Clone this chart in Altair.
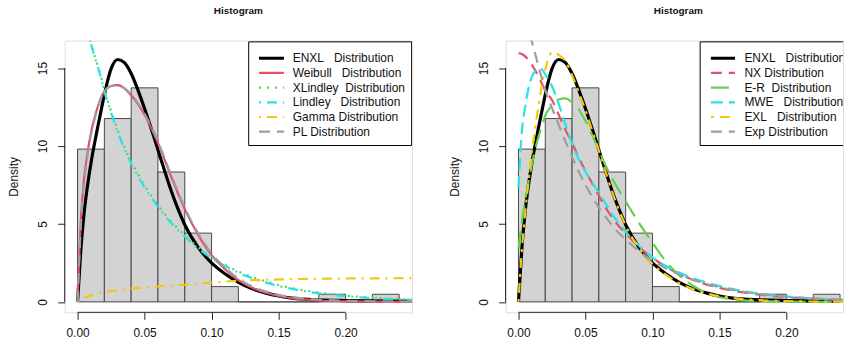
import altair as alt
import pandas as pd

FONT = "Liberation Sans"

# ---------------- data ----------------
BREAKS = [0.00, 0.02, 0.04, 0.06, 0.08, 0.10, 0.12, 0.14, 0.16, 0.18, 0.20, 0.22, 0.24]
DENSITY = [9.80, 11.76, 13.73, 8.33, 4.41, 0.98, 0.0, 0.0, 0.0, 0.49, 0.0, 0.49]

X_GRID = [0, 0.0025, 0.005, 0.0075, 0.01, 0.0125, 0.015, 0.0175, 0.02, 0.025, 0.03,
          0.035, 0.04, 0.045, 0.05, 0.055, 0.06, 0.065, 0.07, 0.075, 0.08, 0.09,
          0.10, 0.11, 0.12, 0.13, 0.14, 0.15, 0.16, 0.18, 0.20, 0.22, 0.25]

ENXL = [0, 3.4, 5.8, 7.5, 8.9, 10.1, 11.2, 12.25, 13.3, 14.95, 15.55, 15.35, 14.65, 13.6, 12.4,
        11.1, 9.75, 8.4, 7.1, 5.95, 4.95, 3.5, 2.5, 1.8, 1.25, 0.85, 0.58, 0.38, 0.24, 0.13,
        0.09, 0.07, 0.05]
WEIBULL = [0, 5.3, 8.0, 9.6, 10.85, 11.75, 12.5, 13.1, 13.5, 13.85, 13.9, 13.7, 13.25, 12.7,
           12.0, 11.15, 10.2, 9.1, 8.0, 6.95, 5.95, 4.3, 3.0, 2.1, 1.4, 0.92, 0.6, 0.38, 0.24,
           0.09, 0.035, 0.012, 0.003]
XLINDLEY = [20.3, 19.3, 18.35, 17.45, 16.6, 15.85, 15.15, 14.45, 13.6, 12.25, 11.0, 9.9, 9.0,
            8.2, 7.45, 6.8, 6.2, 5.65, 5.15, 4.7, 4.28, 3.5, 2.87, 2.37, 1.95, 1.6, 1.32, 1.08,
            0.88, 0.6, 0.4, 0.27, 0.15]
LINDLEY = [20.0, 19.1, 18.2, 17.35, 16.55, 15.8, 15.1, 14.35, 13.5, 12.15, 10.9, 9.8, 8.9, 8.1,
           7.35, 6.7, 6.1, 5.55, 5.05, 4.6, 4.2, 3.42, 2.8, 2.3, 1.88, 1.53, 1.25, 1.02, 0.83,
           0.55, 0.37, 0.24, 0.13]
GAMMA = [0, 0.15, 0.26, 0.35, 0.42, 0.48, 0.53, 0.58, 0.62, 0.69, 0.75, 0.8, 0.85, 0.89, 0.93,
         0.96, 0.99, 1.02, 1.05, 1.08, 1.1, 1.17, 1.24, 1.3, 1.35, 1.39, 1.42, 1.44, 1.46, 1.48,
         1.5, 1.51, 1.52]
PL = [0, 4.9, 7.7, 9.4, 10.7, 11.65, 12.45, 13.05, 13.5, 13.85, 13.9, 13.7, 13.3, 12.75, 12.05,
      11.25, 10.3, 9.2, 8.1, 7.05, 6.05, 4.4, 3.1, 2.2, 1.5, 1.0, 0.68, 0.45, 0.31, 0.15, 0.07,
      0.035, 0.015]

NX = [15.95, 15.9, 15.75, 15.5, 15.2, 14.85, 14.45, 14.0, 13.55, 12.95, 12.0, 11.05, 10.2, 9.25,
      8.4, 7.6, 6.8, 6.05, 5.4, 4.85, 4.4, 3.5, 2.83, 2.25, 1.8, 1.42, 1.12, 0.9, 0.72, 0.46,
      0.3, 0.19, 0.1]
ER = [3.4, 5.1, 6.5, 7.7, 8.8, 9.8, 10.6, 11.3, 11.95, 12.6, 12.98, 13.05, 12.8, 12.35, 11.6,
      10.7, 9.75, 8.75, 7.9, 7.15, 6.45, 5.05, 3.8, 2.6, 1.7, 1.05, 0.58, 0.3, 0.16, 0.05,
      0.015, 0.004, 0.0]
MWE = [7.3, 10.9, 12.5, 13.7, 14.45, 14.8, 14.95, 14.9, 14.6, 13.85, 12.7, 11.4, 10.15, 9.15,
       8.35, 7.65, 7.0, 6.3, 5.6, 5.05, 4.5, 3.6, 2.85, 2.3, 1.88, 1.53, 1.25, 1.02, 0.82, 0.53,
       0.34, 0.22, 0.11]
EXL = [0, 3.3, 5.7, 7.7, 9.6, 11.15, 12.6, 13.9, 14.9, 16.0, 15.85, 15.45, 14.55, 13.45, 12.3,
       11.0, 9.7, 8.35, 7.05, 5.9, 4.9, 3.45, 2.45, 1.75, 1.2, 0.82, 0.55, 0.37, 0.25, 0.11,
       0.05, 0.02, 0.01]
EXP = [20.5, 19.5, 18.5, 17.6, 16.7, 15.9, 15.1, 14.3, 13.6, 12.45, 11.35, 10.3, 9.3, 8.35, 7.5,
       6.75, 6.05, 5.45, 4.9, 4.4, 4.0, 3.25, 2.65, 2.15, 1.75, 1.42, 1.15, 0.95, 0.77, 0.5,
       0.34, 0.22, 0.12]

X_TICKS = [0.0, 0.05, 0.10, 0.15, 0.20]
Y_TICKS = [0, 5, 10, 15]

NB = "\u00a0"
LEFT_LABELS = ["ENXL" + NB * 3 + "Distribution", "Weibull" + NB * 3 + "Distribution",
               "XLindley" + NB * 2 + "Distribution", "Lindley" + NB * 3 + "Distribution",
               "Gamma Distribution", "PL Distribution"]
RIGHT_LABELS = ["ENXL" + NB * 3 + "Distribution", "NX Distribution",
                "E-R" + NB * 2 + "Distribution", "MWE" + NB * 3 + "Distribution",
                "EXL" + NB * 3 + "Distribution", "Exp Distribution"]

# ---------------- styles ----------------
BLACK, RED, GREEN, CYAN, YELLOW, GRAY = "#000000", "#DF536B", "#61D04F", "#28E2E5", "#F5C710", "#9E9E9E"
LEFT_STYLES = [  # series, color, dash, width
    (ENXL, BLACK, None, 3.2),
    (WEIBULL, RED, None, 2.2),
    (XLINDLEY, GREEN, [2, 6], 2.2),
    (LINDLEY, CYAN, [2, 6, 10, 6], 2.2),
    (GAMMA, YELLOW, [2, 6, 10, 6], 2.2),
    (PL, GRAY, [11, 7], 2.2),
]
RIGHT_STYLES = [
    (ENXL, BLACK, None, 3.2),
    (NX, RED, [11, 7], 2.2),
    (ER, GREEN, [18, 8], 2.2),
    (MWE, CYAN, [12, 6], 2.2),
    (EXL, YELLOW, [3, 6, 10, 6], 2.2),
    (EXP, GRAY, [11, 7], 2.2),
]

W_L, W_R, H = 349, 339, 273
Y_DOM = [-0.67, 16.76]
XL_DOM = [-0.0096, 0.2496]
XR_DOM = [-0.0096, 0.2422]
LEG_ROWS = [15.63, 14.69, 13.75, 12.80, 11.86, 10.92]


def panel(width, xdom, styles, labels, box, line_x, text_x, title_dx):
    xs = alt.Scale(domain=xdom, nice=False, zero=False)
    ys = alt.Scale(domain=Y_DOM, nice=False, zero=False)
    xax = alt.Axis(values=X_TICKS, format=".2f", title=None, domain=False, grid=False,
                   tickSize=7, tickColor="#222", labelPadding=8.5, labelFont=FONT,
                   labelFontSize=12, labelColor="#111", labelFlush=False)
    yax = alt.Axis(values=Y_TICKS, format="d", title="Density", domain=False, grid=False,
                   tickSize=7, tickColor="#222", labelPadding=8, labelFont=FONT,
                   labelFontSize=12, labelColor="#111", labelAngle=270, labelAlign="center",
                   labelBaseline="bottom", titleFont=FONT, titleFontSize=12,
                   titleFontWeight="normal", titleColor="#111", titleX=-47,
                   titleBaseline="alphabetic", titleAngle=270)

    hist = pd.DataFrame({"lo": BREAKS[:-1], "hi": BREAKS[1:], "base": [0.0] * len(DENSITY),
                         "dens": DENSITY})
    layers = [alt.Chart(hist).mark_rect(fill="#D3D3D3", stroke="#474747", strokeWidth=1).encode(
        x=alt.X("lo:Q", scale=xs, axis=xax), x2="hi",
        y=alt.Y("base:Q", scale=ys, axis=yax), y2="dens")]

    for vals, color, dash, sw in styles:
        df = pd.DataFrame({"x": X_GRID, "y": vals})
        kw = dict(color=color, strokeWidth=sw, clip=True, interpolate="monotone")
        if dash:
            kw["strokeDash"] = dash
        layers.append(alt.Chart(df).mark_line(**kw).encode(
            x=alt.X("x:Q", scale=xs, axis=xax), y=alt.Y("y:Q", scale=ys, axis=yax)))

    bx = pd.DataFrame({"x1": [box[0]], "x2": [box[1]], "y1": [box[2]], "y2": [box[3]]})
    layers.append(alt.Chart(bx).mark_rect(fill="white", stroke="black", strokeWidth=1,
                                          clip=True).encode(
        x=alt.X("x1:Q", scale=xs, axis=xax), x2="x2",
        y=alt.Y("y1:Q", scale=ys, axis=yax), y2="y2"))

    for (vals, color, dash, sw), ry in zip(styles, LEG_ROWS):
        ld = pd.DataFrame({"a": [line_x[0]], "b": [line_x[1]], "y": [ry]})
        kw = dict(color=color, strokeWidth=sw, clip=True)
        if dash:
            kw["strokeDash"] = dash
        layers.append(alt.Chart(ld).mark_rule(**kw).encode(
            x=alt.X("a:Q", scale=xs, axis=xax), x2="b",
            y=alt.Y("y:Q", scale=ys, axis=yax)))

    td = pd.DataFrame({"x": [text_x] * len(labels), "y": LEG_ROWS, "t": labels})
    layers.append(alt.Chart(td).mark_text(align="left", baseline="middle", font=FONT,
                                          fontSize=12, color="#111", clip=True).encode(
        x=alt.X("x:Q", scale=xs, axis=xax), y=alt.Y("y:Q", scale=ys, axis=yax), text="t:N"))

    # R-style axis lines spanning only the tick range
    layers.append(alt.Chart(pd.DataFrame({"d": [0]})).mark_rule(color="#222", strokeWidth=1).encode(
        x=alt.X(datum=X_TICKS[0], scale=xs, axis=xax), x2=alt.X2(datum=X_TICKS[-1]),
        y=alt.value(H)))
    layers.append(alt.Chart(pd.DataFrame({"d": [0]})).mark_rule(color="#222", strokeWidth=1).encode(
        y=alt.Y(datum=Y_TICKS[0], scale=ys, axis=yax), y2=alt.Y2(datum=Y_TICKS[-1]),
        x=alt.value(0)))

    return alt.layer(*layers).properties(
        width=width, height=H,
        title=alt.TitleParams("Histogram", font=FONT, fontSize=10, fontWeight="bold",
                              color="#111", anchor="middle", frame="group",
                              baseline="alphabetic", offset=17, dx=title_dx))


left = panel(W_L, XL_DOM, LEFT_STYLES, LEFT_LABELS,
             box=(0.1277, 0.2493, 10.03, 16.68), line_x=(0.1354, 0.1540), text_x=0.1606,
             title_dx=0)
right = panel(W_R, XR_DOM, RIGHT_STYLES, RIGHT_LABELS,
              box=(0.1356, 0.27, 10.03, 16.68), line_x=(0.1436, 0.1616), text_x=0.1686,
              title_dx=4)

chart = alt.hconcat(left, right, spacing=35).properties(
    padding={"left": 7, "top": 4, "right": 0, "bottom": 0}
).configure_view(stroke=None).configure(background="white")

chart.save("out.html", embed_options={"renderer": "svg", "actions": False})
